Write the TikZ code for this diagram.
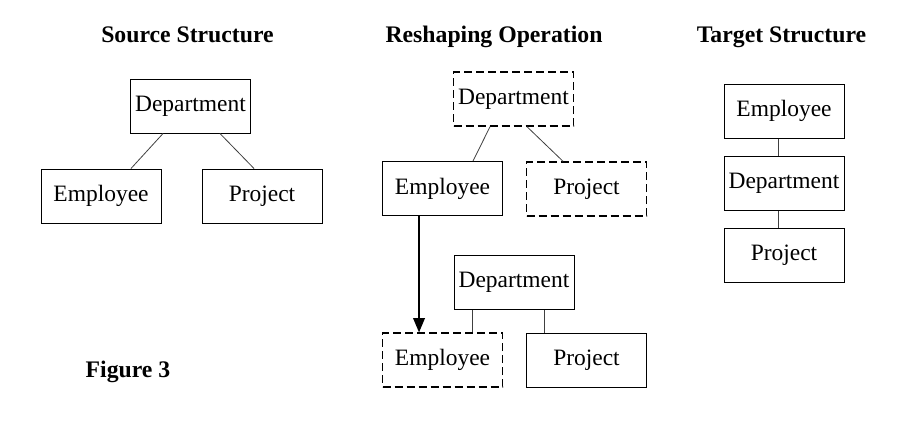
\documentclass[tikz,border=0pt]{standalone}
\usepackage{fontspec}
\setmainfont{Liberation Serif}
\usetikzlibrary{shapes.geometric, arrows}
\tikzstyle{entity} = [rectangle, draw, line width=0.75pt, minimum width=90pt, minimum height=40.5pt, inner sep=0pt, text centered, font=\fontsize{17.6}{20}\selectfont]
\tikzstyle{ghost} = [entity, line width=1pt, dash pattern=on 6pt off 3pt]
\tikzstyle{title} = [anchor=base, inner sep=0pt, font=\fontsize{17.8}{20}\selectfont\bfseries]
\tikzstyle{link} = [line width=0.6pt, black!75]
\tikzstyle{arrow} = [line width=1.5pt,->,>=triangle 45]

\begin{document}
\begin{tikzpicture}[x=0.75pt, y=-0.75pt]
    \useasboundingbox (0,0) rectangle (910,429);
    % headings
    \node [title] at (187.5,42) (tsrc) {Source Structure};
    \node [title] at (494,42) (tops) {Reshaping Operation};
    \node [title] at (781.5,42) (ttgt) {Target Structure};
    \node [title] at (128,377) (tfig) {Figure 3};
    % source structure
    \node [entity] at (190.5,106) (sdept) {Department};
    \node [entity] at (101,196) (semp) {Employee};
    \node [entity] at (262,196) (sproj) {Project};
    \draw [link] ([xshift=-20.6pt]sdept.south) -- ([xshift=22.5pt]semp.north);
    \draw [link] ([xshift=22.1pt]sdept.south) -- ([xshift=-6pt]sproj.north);
    % reshaping operation
    \node [ghost] at (513.5,99) (rdept) {Department};
    \node [entity] at (442.5,188.5) (remp) {Employee};
    \node [ghost] at (586.5,189) (rproj) {Project};
    \draw [link] ([xshift=-17.6pt]rdept.south) -- ([xshift=22.9pt]remp.north);
    \draw [link] ([xshift=10.1pt]rdept.south) -- ([xshift=-17.6pt]rproj.north);
    \node [entity] at (514,282.5) (ndept) {Department};
    \node [ghost] at (442.5,360) (nemp) {Employee};
    \node [entity] at (586.5,360) (nproj) {Project};
    \draw [link] ([xshift=-31.5pt]ndept.south) -- ([xshift=-31.5pt]ndept.south |- nemp.north);
    \draw [link] ([xshift=22.5pt]ndept.south) -- ([xshift=22.5pt]ndept.south |- nproj.north);
    \draw [arrow] ([xshift=-17.6pt]remp.south) -- ([xshift=-17.6pt]nemp.north);
    % target structure
    \node [entity] at (784,111) (temp) {Employee};
    \node [entity] at (784,183) (tdept) {Department};
    \node [entity] at (784,255) (tproj) {Project};
    \draw [link] ([xshift=-4.5pt]temp.south) -- ([xshift=-4.5pt]tdept.north);
    \draw [link] ([xshift=-4.5pt]tdept.south) -- ([xshift=-4.5pt]tproj.north);
\end{tikzpicture}
\end{document}
